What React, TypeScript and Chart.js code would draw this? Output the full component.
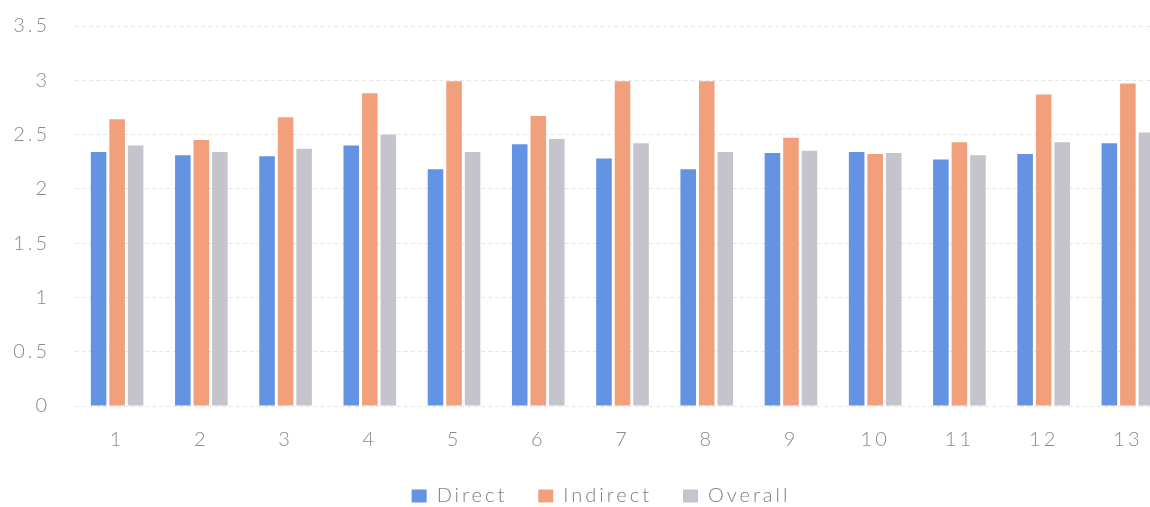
import React, { useEffect, useRef } from "react";
import { Chart, registerables } from "chart.js";

Chart.register(...registerables);

const categories = ["1", "2", "3", "4", "5", "6", "7", "8", "9", "10", "11", "12", "13"];
const directValues = [2.34, 2.31, 2.3, 2.4, 2.18, 2.41, 2.28, 2.18, 2.33, 2.34, 2.27, 2.32, 2.42];
const indirectValues = [2.64, 2.45, 2.66, 2.88, 2.99, 2.67, 2.99, 2.99, 2.47, 2.32, 2.43, 2.87, 2.97];
const overallValues = [2.4, 2.34, 2.37, 2.5, 2.34, 2.46, 2.42, 2.34, 2.35, 2.33, 2.31, 2.43, 2.52];
const yTicks = [0, 0.5, 1, 1.5, 2, 2.5, 3, 3.5];

const spacingPlugin = {
  id: "spacing",
  beforeInit(chart: any) {
    chart.ctx.letterSpacing = "3px";
  },
  beforeUpdate(chart: any) {
    chart.ctx.letterSpacing = "3px";
  },
  afterLayout(chart: any) {
    if (chart.legend) {
      chart.legend.left += 16;
      chart.legend.right += 16;
    }
  },
  beforeDraw(chart: any) {
    chart.ctx.letterSpacing = "3px";
  },
};

export default function App() {
  const ref = useRef<HTMLCanvasElement | null>(null);

  useEffect(() => {
    if (!ref.current) return;
    const font = { family: "Lato, 'Open Sans', sans-serif", size: 20, weight: 300 as any };
    const chart = new Chart(ref.current, {
      type: "bar",
      data: {
        labels: categories,
        datasets: [
          { label: "Direct", data: directValues, backgroundColor: "#6393E2" },
          { label: "Indirect", data: indirectValues, backgroundColor: "#F1A07B" },
          { label: "Overall", data: overallValues, backgroundColor: "#C5C4CC" },
        ],
      },
      plugins: [spacingPlugin],
      options: {
        animation: false,
        responsive: false,
        maintainAspectRatio: false,
        layout: { padding: { left: 0, right: 10, top: 8, bottom: 0 } },
        datasets: { bar: { categoryPercentage: 0.66, barPercentage: 0.84 } },
        plugins: {
          legend: {
            position: "bottom",
            labels: {
              boxWidth: 15,
              boxHeight: 13,
              padding: 31,
              color: "#7d7d7d",
              font,
            },
          },
          tooltip: { enabled: false },
        },
        scales: {
          x: {
            afterFit: (axis: any) => {
              axis.height = 49;
            },
            grid: { display: false, drawTicks: false },
            border: { display: false },
            ticks: { color: "#8a8a8a", font, padding: 22 },
          },
          y: {
            min: 0,
            max: 3.5,
            afterBuildTicks: (axis: any) => {
              axis.ticks = yTicks.map((v) => ({ value: v }));
            },
            afterFit: (axis: any) => {
              axis.width = 75;
            },
            grid: { color: "#e6e6e6", lineWidth: 1, drawTicks: false },
            border: { display: false, dash: [4, 3] },
            ticks: {
              color: "#8a8a8a",
              font,
              padding: 25,
              callback: (value: any) => String(value),
            },
          },
        },
      },
    });
    return () => chart.destroy();
  }, []);

  return (
    <div style={{ position: "fixed", left: 0, top: 0, width: 1150, height: 507, overflow: "hidden", background: "#fff" }}>
      <canvas
        ref={ref}
        width={1180}
        height={527}
        style={{ position: "absolute", left: 0, top: -11, width: 1180, height: 527, display: "block" }}
      />
    </div>
  );
}
